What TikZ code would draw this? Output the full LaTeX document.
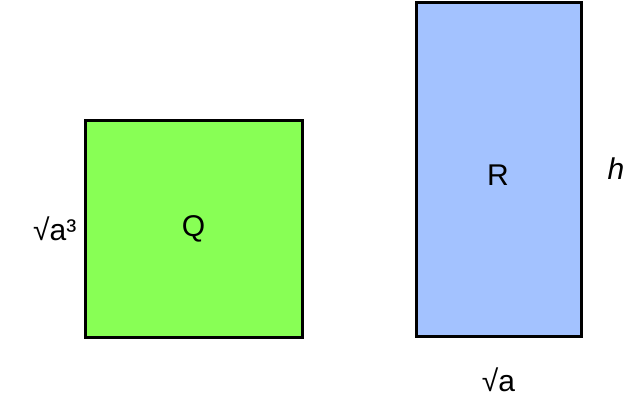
\documentclass[tikz,border=0pt]{standalone}
\usepackage{fontspec}
\setmainfont{Liberation Sans}
\usetikzlibrary{positioning}
\definecolor{qgreen}{HTML}{88FF55}
\definecolor{rblue}{HTML}{A3C2FF}
\tikzset{
  box/.style={draw=black, line width=3pt, inner sep=0pt, font=\fontsize{30}{36}\selectfont},
  lbl/.style={inner sep=0pt, font=\fontsize{30}{36}\selectfont}
}
\begin{document}
\begin{tikzpicture}[x=1pt,y=-1pt]
  \useasboundingbox (0,0) rectangle (626,413);
  \node[box, fill=qgreen, minimum width=217pt, minimum height=217pt] (q) at (193.5,228.5) {Q};
  \node[box, fill=rblue, minimum width=165pt, minimum height=334pt] (r) at (498.5,169) {};
  \node[lbl] (rl) at (498,175) {R};
  \node[lbl, left=7pt of q] (qside) {√a³};
  \node[lbl, right=25pt of r.east] (h) {\itshape h};
  \node[lbl, below=30pt of r.south] (rbase) {√a};
\end{tikzpicture}
\end{document}
